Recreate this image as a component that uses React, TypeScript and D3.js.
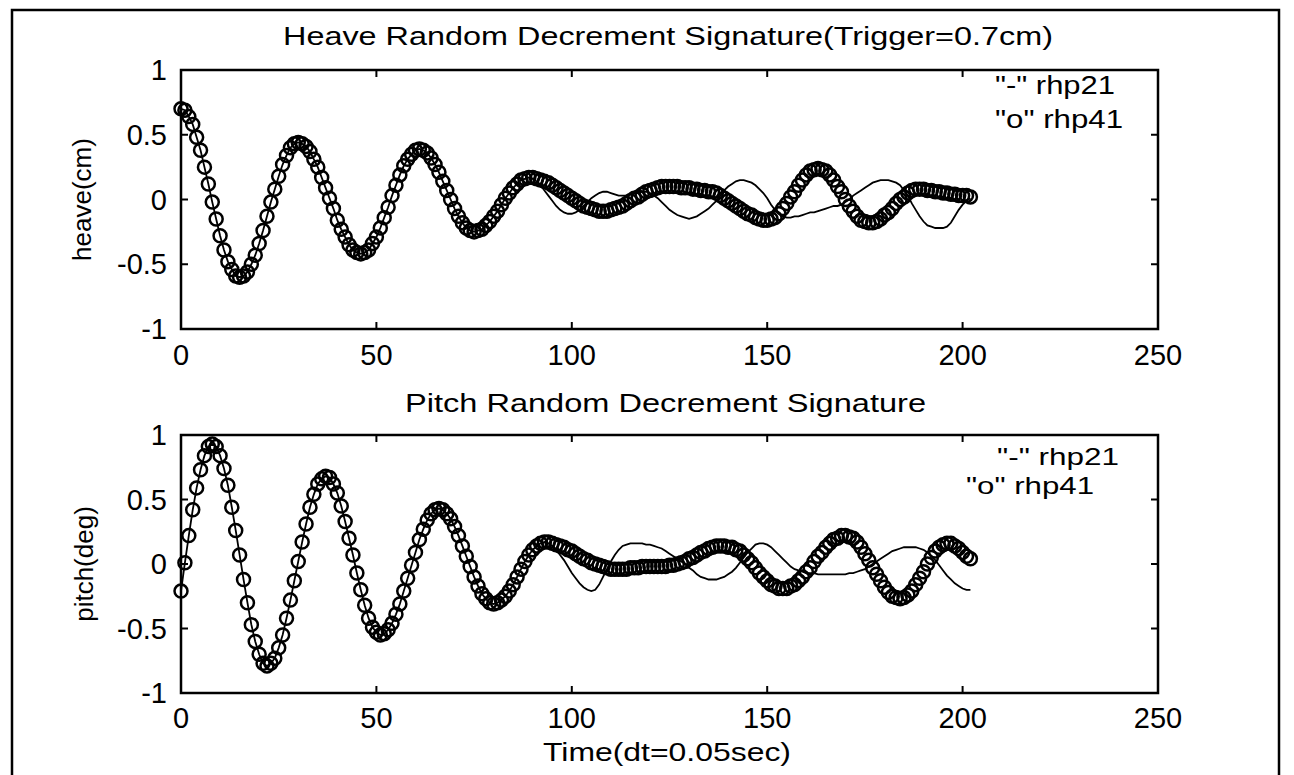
import React from "react";
import * as d3 from "d3";

// sample index (dt = 0.05 s) runs 0..202
const xTicks = [0, 50, 100, 150, 200, 250];
const yTicks = [-1, -0.5, 0, 0.5, 1];
const yTickLabels = ["-1", "-0.5", "0", "0.5", "1"];

const heaveRhp41 = [
  0.70,0.69,0.64,0.58,0.48,0.38,0.25,0.12,-0.02,-0.15,-0.28,-0.39,-0.48,-0.54,-0.59,-0.60,
  -0.59,-0.56,-0.50,-0.43,-0.34,-0.24,-0.13,-0.02,0.08,0.18,0.27,0.34,0.40,0.43,0.44,
  0.43,0.41,0.37,0.31,0.25,0.17,0.09,0.01,-0.07,-0.16,-0.23,-0.29,-0.35,-0.39,-0.41,-0.42,
  -0.41,-0.39,-0.34,-0.29,-0.22,-0.14,-0.06,0.03,0.11,0.19,0.26,0.31,0.35,0.38,0.39,
  0.38,0.36,0.32,0.27,0.21,0.14,0.07,0.00,-0.07,-0.13,-0.18,-0.22,-0.24,-0.25,
  -0.24,-0.23,-0.20,-0.17,-0.13,-0.09,-0.04,0.01,0.05,0.09,0.12,0.15,0.16,0.17,
  0.17,0.16,0.15,0.14,0.13,0.11,0.09,0.07,0.05,0.03,0.01,-0.01,-0.03,-0.05,-0.06,-0.07,-0.08,-0.09,-0.09,
  -0.09,-0.08,-0.07,-0.06,-0.05,-0.03,-0.01,0.01,0.02,0.04,0.06,0.07,0.08,0.09,0.10,0.10,
  0.10,0.10,0.10,0.09,0.09,0.09,0.08,0.08,0.07,0.07,0.06,0.06,0.05,0.03,0.01,-0.01,-0.03,-0.05,-0.07,-0.09,-0.11,-0.12,-0.14,-0.15,-0.16,-0.16,
  -0.15,-0.14,-0.11,-0.07,-0.03,0.02,0.06,0.11,0.15,0.19,0.22,0.23,0.24,
  0.23,0.22,0.19,0.15,0.10,0.06,0.00,-0.05,-0.09,-0.13,-0.16,-0.17,-0.18,
  -0.18,-0.17,-0.15,-0.12,-0.10,-0.07,-0.03,0.00,0.02,0.05,0.07,0.08,0.08,
  0.08,0.07,0.07,0.06,0.06,0.05,0.05,0.04,0.04,0.03,0.03,0.03,0.02,
];

const heaveRhp21 = [
  0.70,0.69,0.64,0.58,0.48,0.38,0.25,0.12,-0.02,-0.15,-0.28,-0.39,-0.48,-0.54,-0.59,-0.60,
  -0.59,-0.56,-0.50,-0.43,-0.34,-0.24,-0.13,-0.02,0.08,0.18,0.27,0.34,0.40,0.43,0.44,
  0.43,0.41,0.37,0.31,0.25,0.17,0.09,0.01,-0.07,-0.16,-0.23,-0.29,-0.35,-0.39,-0.41,-0.42,
  -0.41,-0.39,-0.34,-0.29,-0.22,-0.14,-0.06,0.03,0.11,0.19,0.26,0.31,0.35,0.38,0.39,
  0.38,0.36,0.32,0.27,0.21,0.14,0.07,0.00,-0.07,-0.13,-0.18,-0.22,-0.24,-0.25,
  -0.24,-0.23,-0.20,-0.17,-0.13,-0.09,-0.04,0.01,0.05,0.09,0.12,0.15,0.16,
  0.17,0.16,0.14,0.11,0.07,0.03,-0.01,-0.05,-0.08,-0.10,-0.11,-0.11,-0.10,-0.08,-0.05,-0.02,
  0.01,0.03,0.05,0.06,0.06,0.05,0.04,0.03,0.03,0.03,0.04,0.05,0.06,0.06,0.06,0.05,
  0.03,0.01,-0.02,-0.05,-0.08,-0.10,-0.12,-0.13,-0.14,-0.15,-0.14,-0.13,-0.11,-0.09,-0.07,
  -0.04,-0.01,0.03,0.07,0.10,0.12,0.14,0.15,0.15,
  0.14,0.13,0.11,0.08,0.05,0.01,-0.04,-0.08,-0.11,-0.13,-0.14,
  -0.14,-0.13,-0.13,-0.12,-0.11,-0.10,-0.10,-0.09,-0.08,-0.07,-0.06,-0.05,-0.05,
  -0.04,-0.02,0.00,0.03,0.05,0.07,0.09,0.11,0.13,0.14,0.15,0.15,0.15,0.14,0.13,
  0.11,0.07,0.03,-0.03,-0.08,-0.13,-0.17,-0.20,-0.21,-0.22,-0.22,-0.22,-0.21,-0.18,-0.13,-0.08,-0.04,-0.01,0.01,
];

const pitchRhp41 = [
  -0.21,0.01,0.22,0.42,0.59,0.73,0.84,0.91,0.93,
  0.91,0.84,0.74,0.61,0.44,0.26,0.07,-0.12,-0.30,-0.47,-0.60,-0.70,-0.77,-0.79,
  -0.77,-0.73,-0.65,-0.55,-0.42,-0.28,-0.13,0.02,0.17,0.31,0.44,0.54,0.62,0.66,0.68,
  0.67,0.62,0.55,0.45,0.33,0.20,0.07,-0.07,-0.20,-0.32,-0.42,-0.49,-0.53,-0.55,
  -0.54,-0.51,-0.46,-0.39,-0.31,-0.21,-0.11,-0.01,0.09,0.19,0.27,0.34,0.39,0.42,0.43,
  0.42,0.39,0.35,0.29,0.22,0.14,0.06,-0.02,-0.10,-0.17,-0.23,-0.27,-0.30,-0.31,
  -0.30,-0.28,-0.25,-0.21,-0.16,-0.10,-0.04,0.02,0.07,0.11,0.14,0.16,0.17,
  0.17,0.16,0.15,0.14,0.13,0.11,0.10,0.08,0.06,0.04,0.03,0.01,0.00,-0.01,-0.02,
  -0.03,-0.04,-0.04,-0.04,-0.04,-0.04,-0.03,-0.03,-0.03,-0.02,-0.02,-0.02,-0.02,-0.02,
  -0.02,-0.02,-0.01,-0.01,0.00,0.01,0.02,0.04,0.05,0.07,0.09,0.10,0.12,0.13,0.14,0.14,0.14,0.13,
  0.13,0.11,0.10,0.07,0.04,0.01,-0.03,-0.07,-0.10,-0.13,-0.16,-0.17,-0.19,-0.19,
  -0.19,-0.17,-0.16,-0.13,-0.10,-0.06,-0.03,0.02,0.06,0.09,0.13,0.16,0.19,0.20,0.22,0.22,
  0.21,0.20,0.17,0.13,0.08,0.03,-0.03,-0.08,-0.13,-0.18,-0.22,-0.25,-0.26,-0.27,
  -0.26,-0.24,-0.21,-0.16,-0.11,-0.06,0.00,0.05,0.10,0.13,0.15,0.16,
  0.16,0.14,0.12,0.09,0.06,0.04,
];

const pitchRhp21 = [
  -0.21,0.01,0.22,0.42,0.59,0.73,0.84,0.91,0.93,
  0.91,0.84,0.74,0.61,0.44,0.26,0.07,-0.12,-0.30,-0.47,-0.60,-0.70,-0.77,-0.79,
  -0.77,-0.73,-0.65,-0.55,-0.42,-0.28,-0.13,0.02,0.17,0.31,0.44,0.54,0.62,0.66,0.68,
  0.67,0.62,0.55,0.45,0.33,0.20,0.07,-0.07,-0.20,-0.32,-0.42,-0.49,-0.53,-0.55,
  -0.54,-0.51,-0.46,-0.39,-0.31,-0.21,-0.11,-0.01,0.09,0.19,0.27,0.34,0.39,0.42,0.43,
  0.42,0.39,0.35,0.29,0.22,0.14,0.06,-0.02,-0.10,-0.17,-0.23,-0.27,-0.30,-0.31,
  -0.30,-0.28,-0.25,-0.21,-0.16,-0.10,-0.04,0.02,0.07,0.11,0.14,0.16,
  0.17,0.16,0.14,0.11,0.07,0.03,-0.02,-0.07,-0.11,-0.15,-0.18,-0.20,-0.21,-0.20,-0.16,-0.10,-0.04,
  0.02,0.07,0.11,0.14,0.15,0.16,0.16,0.16,0.16,0.15,0.15,0.14,0.13,0.12,0.10,0.08,0.06,0.04,0.02,0.00,
  -0.03,-0.05,-0.08,-0.10,-0.11,-0.12,-0.12,-0.12,-0.11,-0.10,-0.08,-0.06,-0.03,0.01,0.05,0.09,0.12,0.15,
  0.16,0.16,0.15,0.13,0.10,0.07,0.04,0.01,-0.02,-0.04,-0.05,-0.06,-0.07,-0.07,-0.07,
  -0.08,-0.08,-0.08,-0.08,-0.08,-0.08,-0.08,-0.08,-0.07,-0.07,-0.06,-0.05,-0.04,-0.02,
  0.00,0.02,0.04,0.06,0.08,0.10,0.11,0.12,0.13,0.13,0.13,0.13,0.12,0.11,0.09,0.06,0.03,
  -0.01,-0.05,-0.09,-0.12,-0.15,-0.17,-0.19,-0.20,-0.20,
];

const FONT = "'Liberation Sans', Arial, Helvetica, sans-serif";

type PanelProps = {
  top: number;
  bottom: number;
  line: number[];
  circles: number[];
  title: string;
  titleX: number;
  titleY: number;
  titleLen: number;
  yLabel: string;
  yLabelX: number;
  xTickY: number;
  legendSize: number;
  legend: { text: string; x: number; y: number; len: number }[];
};

function Panel(p: PanelProps) {
  const x = d3.scaleLinear().domain([0, 250]).range([181, 1158]);
  const y = d3.scaleLinear().domain([-1, 1]).range([p.bottom, p.top]);
  const [x0, x1] = x.range();
  const lineGen = d3
    .line<number>()
    .x((_, i) => x(i))
    .y((d) => y(d));
  const tl = 7;
  return (
    <g>
      <text
        x={p.titleX}
        y={p.titleY}
        fontSize={26}
        fontFamily={FONT}
        textLength={p.titleLen}
        lengthAdjust="spacingAndGlyphs"
      >
        {p.title}
      </text>
      <path d={lineGen(p.line) || ""} fill="none" stroke="#000" strokeWidth={1.8} />
      {p.circles.map((v, i) => (
        <circle key={i} cx={x(i)} cy={y(v)} r={6.5} fill="none" stroke="#000" strokeWidth={2.5} />
      ))}
      <rect x={x0} y={p.top} width={x1 - x0} height={p.bottom - p.top} fill="none" stroke="#000" strokeWidth={2.5} />
      {xTicks.map((t) => (
        <g key={"xt" + t}>
          <line x1={x(t)} x2={x(t)} y1={p.bottom} y2={p.bottom - tl} stroke="#000" strokeWidth={2} />
          <line x1={x(t)} x2={x(t)} y1={p.top} y2={p.top + tl} stroke="#000" strokeWidth={2} />
          <text x={x(t)} y={p.xTickY} fontSize={29} fontFamily={FONT} textAnchor="middle">
            {String(t)}
          </text>
        </g>
      ))}
      {yTicks.map((t, i) => (
        <g key={"yt" + t}>
          <line x1={x0} x2={x0 + tl} y1={y(t)} y2={y(t)} stroke="#000" strokeWidth={2} />
          <line x1={x1} x2={x1 - tl} y1={y(t)} y2={y(t)} stroke="#000" strokeWidth={2} />
          <text x={167} y={y(t) + 10} fontSize={29} fontFamily={FONT} textAnchor="end">
            {yTickLabels[i]}
          </text>
        </g>
      ))}
      <text
        transform={`translate(${p.yLabelX},${(p.top + p.bottom) / 2}) rotate(-90)`}
        fontSize={26}
        fontFamily={FONT}
        textAnchor="middle"
      >
        {p.yLabel}
      </text>
      {p.legend.map((l) => (
        <text
          key={l.text + l.y}
          x={l.x}
          y={l.y}
          fontSize={p.legendSize}
          fontFamily={FONT}
          textLength={l.len}
          lengthAdjust="spacingAndGlyphs"
        >
          {l.text}
        </text>
      ))}
    </g>
  );
}

export default function App() {
  return (
    <svg
      width={1294}
      height={775}
      style={{ position: "absolute", left: 0, top: 0, background: "#fff", display: "block" }}
    >
      <rect x={0} y={0} width={1294} height={775} fill="#fff" />
      <rect x={12} y={10} width={1267} height={800} fill="none" stroke="#000" strokeWidth={2.5} />
      <Panel
        top={70}
        bottom={329}
        line={heaveRhp21}
        circles={heaveRhp41}
        title="Heave Random Decrement Signature(Trigger=0.7cm)"
        titleX={283}
        titleY={45}
        titleLen={770}
        yLabel="heave(cm)"
        yLabelX={91}
        xTickY={365}
        legendSize={26}
        legend={[
          { text: '"-" rhp21', x: 995, y: 94, len: 120 },
          { text: '"o" rhp41', x: 995, y: 128, len: 128 },
        ]}
      />
      <Panel
        top={435}
        bottom={693}
        line={pitchRhp21}
        circles={pitchRhp41}
        title="Pitch Random Decrement Signature"
        titleX={405}
        titleY={412}
        titleLen={521}
        yLabel="pitch(deg)"
        yLabelX={93}
        xTickY={728}
        legendSize={24}
        legend={[
          { text: '"-" rhp21', x: 997, y: 465, len: 122 },
          { text: '"o" rhp41', x: 966, y: 494, len: 128 },
        ]}
      />
      <text x={543} y={761} fontSize={26} fontFamily={FONT} textLength={248} lengthAdjust="spacingAndGlyphs">
        Time(dt=0.05sec)
      </text>
    </svg>
  );
}
